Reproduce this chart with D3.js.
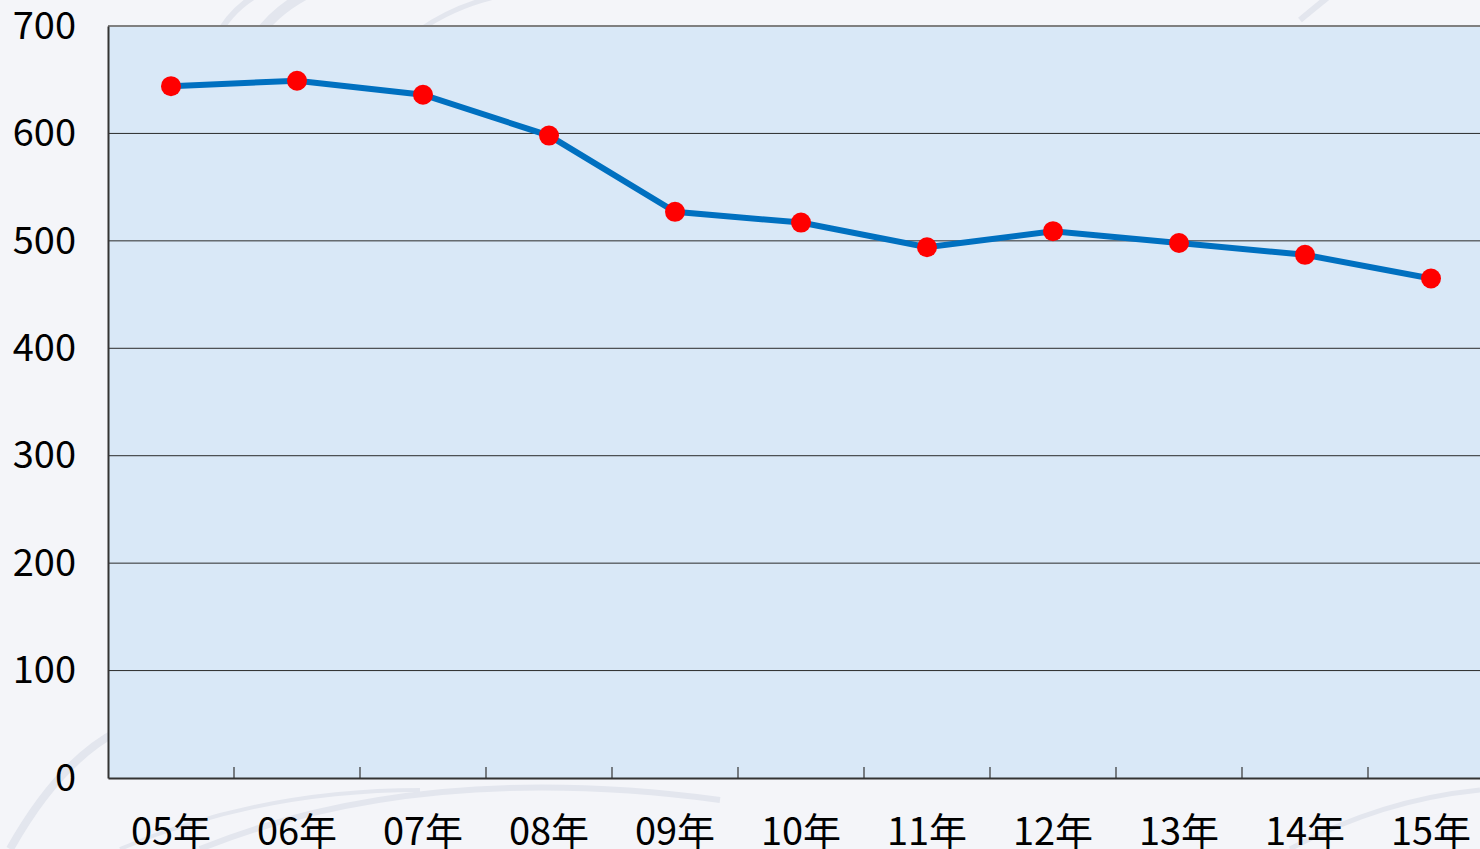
<!DOCTYPE html>
<html>
<head>
<meta charset="utf-8">
<script src="https://cdn.jsdelivr.net/npm/d3@7"></script>
<style>
  body { margin: 0; background: #f4f5f9; overflow: hidden; }
  svg { display: block; }
</style>
</head>
<body>
<svg id="chart" width="1480" height="849"></svg>
<script>
// Data
var years = ["05年", "06年", "07年", "08年", "09年", "10年", "11年", "12年", "13年", "14年", "15年"];
var values = [644, 649, 636, 598, 527, 517, 494, 509, 498, 487, 465];
var yTicks = [0, 100, 200, 300, 400, 500, 600, 700];

var svg = d3.select("#chart");
var margin = {top: 26, left: 108, bottom: 71},
    height = 849 - margin.top - margin.bottom,
    step = 126,
    width = step * years.length;

var font = "'Noto Sans CJK JP', 'Noto Sans', sans-serif";

// faint decorative swirls in the page background
var deco = svg.append("g").attr("fill", "none").attr("stroke", "#e3e6ee");
deco.append("path").attr("stroke-width", 6)
    .attr("d", "M 215 40 Q 240 -10 300 -20");
deco.append("path").attr("stroke-width", 10)
    .attr("d", "M 255 40 Q 280 0 340 -20");
deco.append("path").attr("stroke-width", 5)
    .attr("d", "M 420 30 Q 470 -5 540 -10");
deco.append("path").attr("stroke-width", 8)
    .attr("d", "M 10 849 Q 60 760 120 730");
deco.append("path").attr("stroke-width", 6)
    .attr("d", "M 200 849 Q 420 760 720 800");
deco.append("path").attr("stroke-width", 4)
    .attr("d", "M 120 849 Q 260 790 420 790");
deco.append("path").attr("stroke-width", 5)
    .attr("d", "M 1290 849 Q 1380 800 1480 790");
deco.append("path").attr("stroke-width", 6)
    .attr("d", "M 1300 20 Q 1330 -5 1350 -20");

var x = d3.scaleBand().domain(years).range([margin.left, margin.left + width]);
var y = d3.scaleLinear().domain([0, 700]).range([margin.top + height, margin.top]);

// plot area
svg.append("rect")
    .attr("x", margin.left).attr("y", y(700))
    .attr("width", width).attr("height", y(0) - y(700))
    .attr("fill", "#d9e8f7");

// grid lines
svg.append("g").selectAll("line")
    .data(yTicks.filter(function(d) { return d > 0; }))
    .enter().append("line")
    .attr("x1", margin.left).attr("x2", margin.left + width)
    .attr("y1", function(d) { return y(d); })
    .attr("y2", function(d) { return y(d); })
    .attr("stroke", function(d) { return d === 700 ? "#808080" : "#2a2a2a"; })
    .attr("stroke-width", function(d) { return d === 700 ? 2 : 1; });

// y axis
var yAxis = svg.append("g")
    .attr("transform", "translate(" + margin.left + ",0)")
    .call(d3.axisLeft(y).tickValues(yTicks).tickSize(0).tickPadding(32));
yAxis.select(".domain").attr("stroke", "#333").attr("stroke-width", 2);
yAxis.selectAll("text")
    .style("font-family", font).style("font-size", "38px").attr("fill", "#000");

// x axis
var xAxis = svg.append("g")
    .attr("transform", "translate(0," + y(0) + ")")
    .call(d3.axisBottom(x).tickSize(0).tickPadding(40));
xAxis.select(".domain").attr("stroke", "#333").attr("stroke-width", 2);
xAxis.selectAll("text")
    .style("font-family", font).style("font-size", "38px").attr("fill", "#000");

// inner tick marks at category boundaries
svg.append("g").selectAll("line")
    .data(years.slice(1))
    .enter().append("line")
    .attr("x1", function(d) { return x(d); })
    .attr("x2", function(d) { return x(d); })
    .attr("y1", y(0)).attr("y2", y(0) - 11)
    .attr("stroke", "#333").attr("stroke-width", 1.2);

// line
var line = d3.line()
    .x(function(d, i) { return x(years[i]) + x.bandwidth() / 2; })
    .y(function(d) { return y(d); });

svg.append("path")
    .datum(values)
    .attr("fill", "none")
    .attr("stroke", "#0070c0")
    .attr("stroke-width", 6)
    .attr("d", line);

// markers
svg.append("g").selectAll("circle")
    .data(values)
    .enter().append("circle")
    .attr("cx", function(d, i) { return x(years[i]) + x.bandwidth() / 2; })
    .attr("cy", function(d) { return y(d); })
    .attr("r", 10)
    .attr("fill", "#ff0000");
</script>
</body>
</html>
